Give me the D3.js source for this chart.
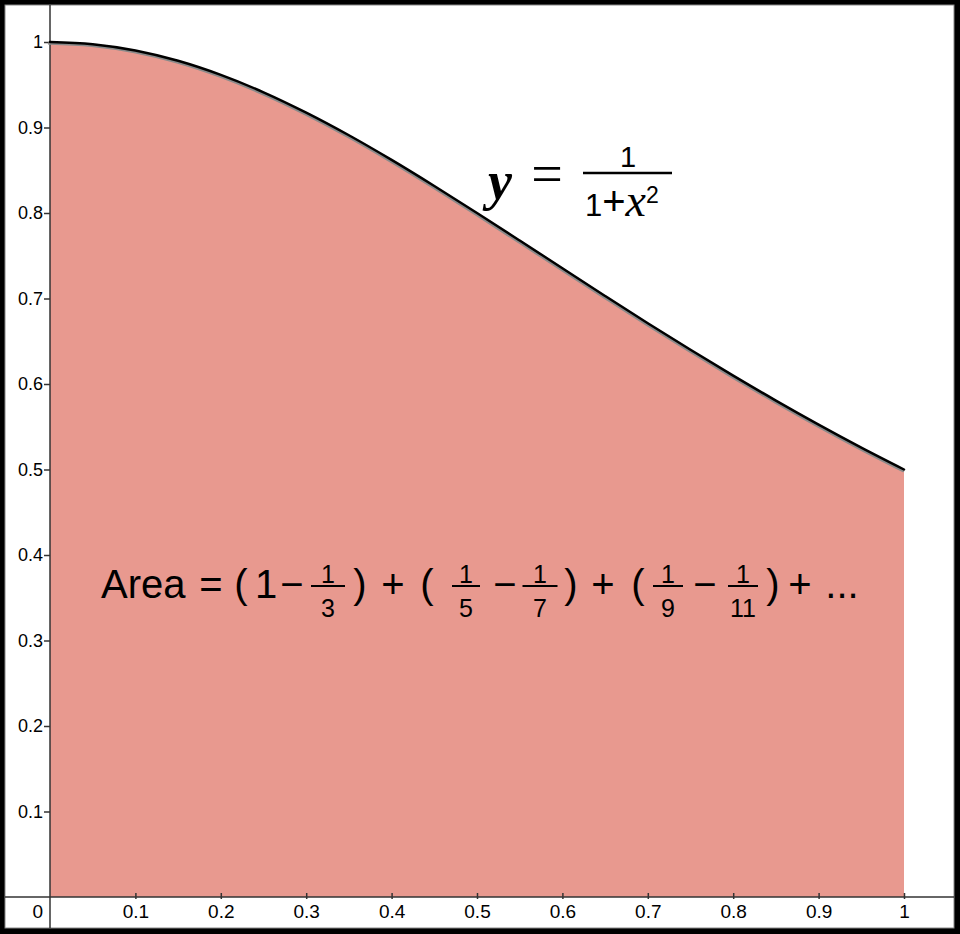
<!DOCTYPE html>
<html>
<head>
<meta charset="utf-8">
<script src="https://cdn.jsdelivr.net/npm/d3@7"></script>
<style>
body{margin:0;background:#000;}
svg{display:block;}
text{font-family:'Liberation Sans', Arial, sans-serif;}
</style>
</head>
<body>
<svg id="main"></svg>
<script>
//--------data----------
//samples of the curve
const curveX = [0, 0.05, 0.1, 0.15, 0.2, 0.25, 0.3, 0.35, 0.4, 0.45, 0.5,
  0.55, 0.6, 0.65, 0.7, 0.75, 0.8, 0.85, 0.9, 0.95, 1];
const curveY = [1, 0.9975, 0.9901, 0.978, 0.9615, 0.9412, 0.9174, 0.8909, 0.8621, 0.8316, 0.8,
  0.7678, 0.7353, 0.703, 0.6711, 0.64, 0.6098, 0.5806, 0.5525, 0.5256, 0.5];

const xTicks = [0.1, 0.2, 0.3, 0.4, 0.5, 0.6, 0.7, 0.8, 0.9, 1];
const xTickLabels = ['0.1', '0.2', '0.3', '0.4', '0.5', '0.6', '0.7', '0.8', '0.9', '1'];
const yTicks = [0.1, 0.2, 0.3, 0.4, 0.5, 0.6, 0.7, 0.8, 0.9, 1];
const yTickLabels = ['0.1', '0.2', '0.3', '0.4', '0.5', '0.6', '0.7', '0.8', '0.9', '1'];

//series terms shown in the area label
const seriesDenoms = [3, 5, 7, 9, 11];

const serif = "'Liberation Serif', 'Times New Roman', serif";
const fillColor = '#e8998f';

//--------code----------
main();

function main(){
  let width = 960;
  let height = 934;
  let svg = d3.select('#main')
  .attr('width', width)
  .attr('height', height);

  //frame
  svg.append('rect')
  .attr('width', width)
  .attr('height', height)
  .attr('fill', '#000');
  svg.append('rect')
  .attr('x', 5)
  .attr('y', 5)
  .attr('width', 949)
  .attr('height', 923)
  .attr('fill', '#fff')
  .attr('stroke', '#888')
  .attr('stroke-width', 1);

  let sx = d3.scaleLinear().domain([0, 1]).range([50, 904]);
  let sy = d3.scaleLinear().domain([0, 1]).range([897, 42]);

  let pts = curveX.map((x, i)=>({x: x, y: curveY[i]}));

  let area = d3.area()
  .x(d=>sx(d.x))
  .y0(sy(0))
  .y1(d=>sy(d.y))
  .curve(d3.curveMonotoneX);
  let line = d3.line()
  .x(d=>sx(d.x))
  .y(d=>sy(d.y))
  .curve(d3.curveMonotoneX);

  svg.append('path')
  .datum(pts)
  .attr('d', area)
  .attr('fill', fillColor);

  //axis lines span the whole frame
  svg.append('line')
  .attr('x1', 5).attr('x2', 954)
  .attr('y1', sy(0)).attr('y2', sy(0))
  .attr('stroke', '#333')
  .attr('stroke-width', 1.5);
  svg.append('line')
  .attr('x1', sx(0)).attr('x2', sx(0))
  .attr('y1', 5).attr('y2', 928)
  .attr('stroke', '#333')
  .attr('stroke-width', 1.5);

  let ay = d3.axisLeft(sy)
  .tickValues(yTicks)
  .tickFormat((d, i)=>yTickLabels[i])
  .tickSize(6)
  .tickPadding(1);
  let gy = svg.append('g')
  .attr('transform', `translate(${sx(0)},0)`)
  .call(ay);
  gy.select('.domain').remove();
  gy.selectAll('line').attr('stroke', '#333').attr('stroke-width', 1.5);
  gy.selectAll('text')
  .attr('fill', '#000')
  .style('font-size', '18px')
  .style('font-family', "'Liberation Sans', Arial, sans-serif");

  let ax = d3.axisBottom(sx)
  .tickValues(xTicks)
  .tickFormat((d, i)=>xTickLabels[i])
  .tickSize(3)
  .tickPadding(5);
  let gx = svg.append('g')
  .attr('transform', `translate(0,${sy(0)})`)
  .call(ax);
  gx.select('.domain').remove();
  gx.selectAll('line')
  .attr('y1', -4)
  .attr('y2', 2)
  .attr('stroke', '#333')
  .attr('stroke-width', 1.5);
  gx.selectAll('text')
  .attr('fill', '#000')
  .style('font-size', '19px')
  .style('font-family', "'Liberation Sans', Arial, sans-serif");

  //shared origin label
  svg.append('text')
  .attr('x', sx(0) - 7)
  .attr('y', 918)
  .attr('text-anchor', 'end')
  .style('font-size', '19px')
  .text('0');

  //curve with a grey shadow under it
  svg.append('path')
  .datum(pts)
  .attr('d', line)
  .attr('transform', 'translate(-1,1.5)')
  .attr('fill', 'none')
  .attr('stroke', '#8a8a8a')
  .attr('stroke-width', 2.5)
  .attr('stroke-linecap', 'round');
  svg.append('path')
  .datum(pts)
  .attr('d', line)
  .attr('fill', 'none')
  .attr('stroke', '#000')
  .attr('stroke-width', 2.5)
  .attr('stroke-linecap', 'round');

  drawCurveLabel(svg);
  drawAreaLabel(svg);
}

function drawCurveLabel(svg){
  let g = svg.append('g');
  g.append('text')
  .attr('x', 488)
  .attr('y', 199)
  .style('font-family', serif)
  .style('font-style', 'italic')
  .style('font-weight', 'bold')
  .style('font-size', '54px')
  .text('y');
  g.append('text')
  .attr('x', 547)
  .attr('y', 193)
  .attr('text-anchor', 'middle')
  .style('font-family', serif)
  .style('font-size', '56px')
  .text('=');
  g.append('text')
  .attr('x', 628)
  .attr('y', 167)
  .attr('text-anchor', 'middle')
  .style('font-size', '29px')
  .text('1');
  g.append('line')
  .attr('x1', 583).attr('x2', 672)
  .attr('y1', 173).attr('y2', 173)
  .attr('stroke', '#000')
  .attr('stroke-width', 2.5);
  let den = g.append('text')
  .attr('x', 585)
  .attr('y', 216);
  den.append('tspan').style('font-size', '31px').text('1');
  den.append('tspan').style('font-size', '40px').attr('dy', -1).text('+');
  den.append('tspan')
  .attr('dy', 1)
  .style('font-family', serif)
  .style('font-style', 'italic')
  .style('font-size', '46px')
  .text('x');
  den.append('tspan')
  .attr('dy', -13)
  .style('font-size', '23px')
  .text('2');
}

function drawAreaLabel(svg){
  let g = svg.append('g');
  let base = 598;
  //plain tokens: [text, centre x]
  let tokens = [
    ['=', 211], ['(', 241], ['1', 266], ['\u2212', 292],
    [')', 360], ['+', 393], ['(', 427], ['\u2212', 505],
    [')', 571], ['+', 603], ['(', 638], ['\u2212', 705],
    [')', 773], ['+', 800], ['...', 842]
  ];
  g.append('text')
  .attr('x', 101)
  .attr('y', base)
  .style('font-size', '40px')
  .text('Area');
  g.selectAll('.tok')
  .data(tokens)
  .join('text')
  .attr('class', 'tok')
  .attr('x', d=>d[1])
  .attr('y', base)
  .attr('text-anchor', 'middle')
  .style('font-size', '40px')
  .text(d=>d[0]);

  //small fractions 1/n
  let fracX = [328, 466, 540, 668, 743];
  let fracW = [34, 28, 35, 30, 30];
  let fr = g.selectAll('.frac')
  .data(seriesDenoms)
  .join('g')
  .attr('class', 'frac')
  .attr('transform', (d, i)=>`translate(${fracX[i]},0)`);
  fr.append('text')
  .attr('y', 583)
  .attr('text-anchor', 'middle')
  .style('font-size', '25px')
  .text('1');
  fr.append('line')
  .attr('x1', (d, i)=>-fracW[i]/2)
  .attr('x2', (d, i)=>fracW[i]/2)
  .attr('y1', 586).attr('y2', 586)
  .attr('stroke', '#000')
  .attr('stroke-width', 2);
  fr.append('text')
  .attr('y', 617)
  .attr('text-anchor', 'middle')
  .style('font-size', '25px')
  .text(d=>d);
}
</script>
</body>
</html>
